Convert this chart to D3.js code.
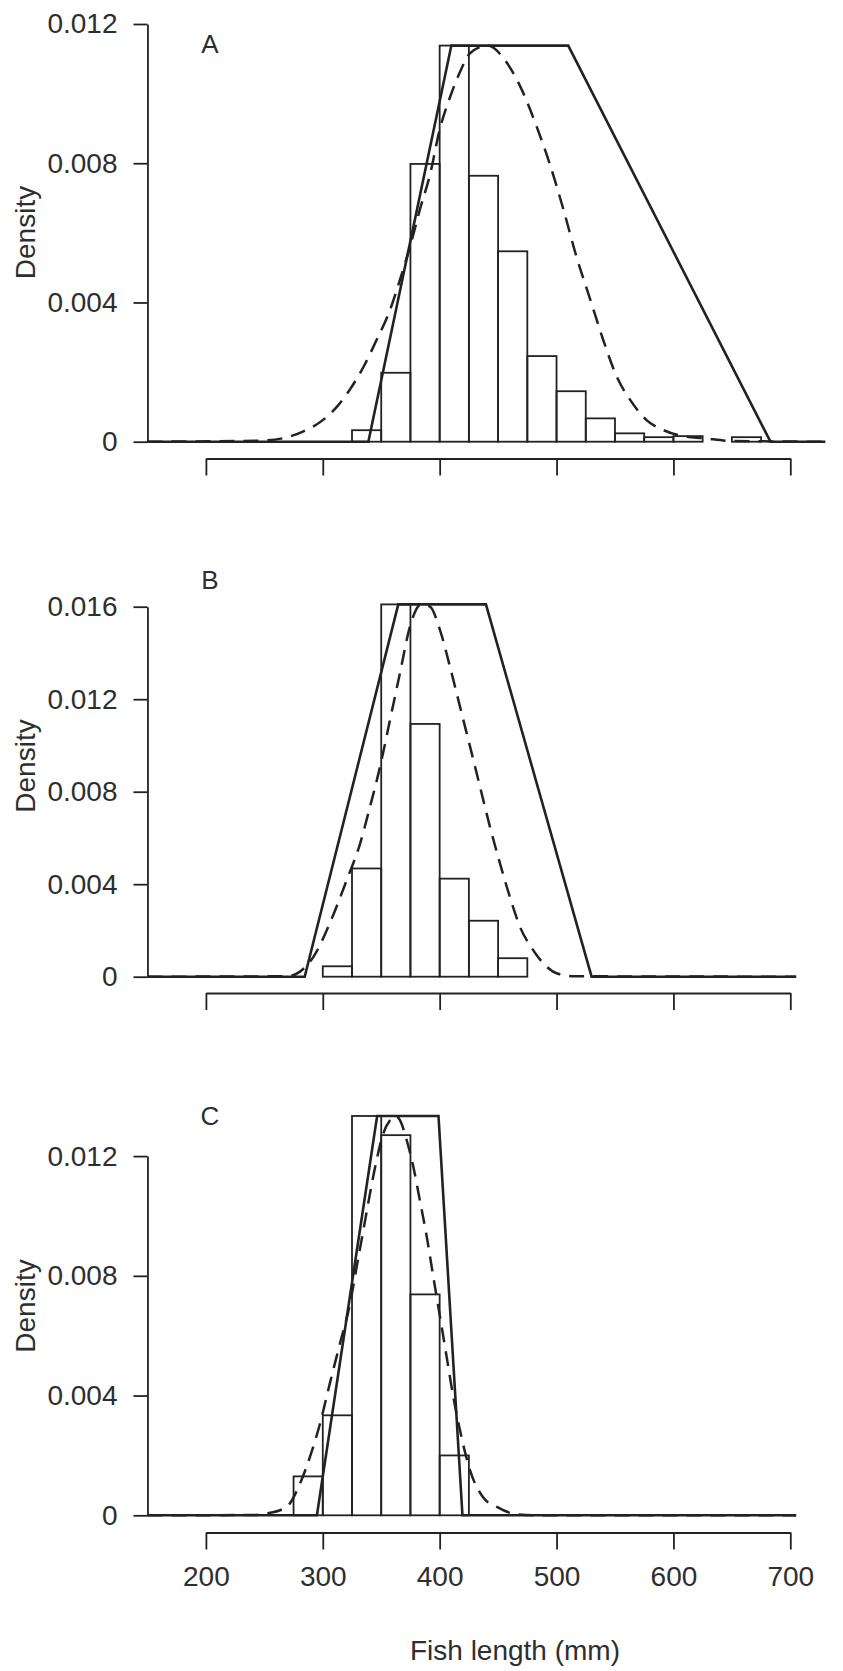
<!DOCTYPE html>
<html>
<head>
<meta charset="utf-8">
<script src="https://cdn.jsdelivr.net/npm/d3@7/dist/d3.min.js"></script>
<style>
  html, body { margin: 0; padding: 0; background: #ffffff; }
  svg { display: block; }
  text { font-family: "Liberation Sans", Arial, Helvetica, sans-serif; fill: #2e2e2e; }
</style>
</head>
<body>
<svg id="chart" width="843" height="1671"></svg>
<script>
// ---- data -------------------------------------------------------------
const lengthTicks = [200, 300, 400, 500, 600, 700];
const lengthRange = [150, 730];
const binWidth = 25;

// Panel A
const binStartsA = [325, 350, 375, 400, 425, 450, 475, 500, 525, 550, 575, 600, 625, 650];
const densityA   = [0.00033, 0.00198, 0.00798, 0.01138, 0.00764, 0.00547, 0.00246, 0.00145,
                    0.00067, 0.00024, 0.00013, 0.00016, 0, 0.00013];
const trapLenA   = [150, 339, 410, 510, 683, 730];
const trapDenA   = [0, 0, 0.01138, 0.01138, 0, 0];
const curveLenA  = [150, 246, 266, 283, 300, 312, 323, 335, 346, 357.5, 366, 374.6, 383, 392, 400,
                    409, 417, 426, 441, 455, 469, 483, 494, 506, 517, 529, 540, 551.5, 563, 577,
                    591, 608, 626, 650, 730];
const curveDenA  = [0, 0.00003, 0.0001, 0.00029, 0.00062, 0.001, 0.00149, 0.00216, 0.00292, 0.00378,
                    0.00465, 0.0056, 0.00666, 0.00771, 0.00896, 0.00991, 0.01059, 0.01116, 0.01138,
                    0.0110, 0.0102, 0.00905, 0.008, 0.00666, 0.00532, 0.00407, 0.00292, 0.00187,
                    0.0012, 0.00062, 0.00034, 0.00016, 0.0001, 0.00002, 0];
const densityTicksA = [0, 0.004, 0.008, 0.012];

// Panel B
const binStartsB = [300, 325, 350, 375, 400, 425, 450];
const densityB   = [0.00045, 0.00468, 0.0161, 0.01093, 0.00424, 0.00242, 0.0008];
const trapLenB   = [150, 284.5, 364.6, 439.6, 530, 705];
const trapDenB   = [0, 0, 0.0161, 0.0161, 0, 0];
const curveLenB  = [150, 270, 280.5, 292, 306, 320.5, 332, 340.4, 349, 357.5, 366, 374.6, 384,
                    391.7, 400.3, 408.8, 417.4, 426, 434.5, 443, 451.6, 460, 468.7, 480, 491.6,
                    500, 515, 705];
const curveDenB  = [0, 0.00002, 0.00022, 0.00086, 0.00231, 0.00418, 0.00577, 0.00735, 0.00908,
                    0.0111, 0.01312, 0.01514, 0.0161, 0.016, 0.01499, 0.01341, 0.01168, 0.00995,
                    0.00822, 0.00649, 0.0049, 0.00346, 0.00216, 0.00115, 0.00043, 0.00015,
                    0.00002, 0];
const densityTicksB = [0, 0.004, 0.008, 0.012, 0.016];

// Panel C
const binStartsC = [275, 300, 325, 350, 375, 400];
const densityC   = [0.0013, 0.00334, 0.01334, 0.0127, 0.00738, 0.002];
const trapLenC   = [150, 295, 346.5, 399, 419.5, 705];
const trapDenC   = [0, 0, 0.01334, 0.01334, 0, 0];
const curveLenC  = [150, 240, 252, 269, 280.5, 289, 297.6, 306, 314.7, 323.3, 329, 334.7, 340.4,
                    346, 351.8, 357.5, 362, 366, 371.8, 377.5, 383, 389, 394.6, 400.3, 406, 411.7,
                    417.4, 426, 437, 449, 466, 480, 705];
const curveDenC  = [0, 0.00001, 0.00006, 0.00028, 0.00106, 0.00195, 0.00306, 0.0044, 0.00574,
                    0.00707, 0.0083, 0.00952, 0.01075, 0.01186, 0.01276, 0.0132, 0.01334, 0.0132,
                    0.01253, 0.01164, 0.01053, 0.0093, 0.00796, 0.00663, 0.00529, 0.00395,
                    0.00284, 0.0015, 0.00061, 0.00028, 0.00003, 0, 0];
const densityTicksC = [0, 0.004, 0.008, 0.012];

const panelLabels = ["A", "B", "C"];
const yTitle = "Density";
const xTitle = "Fish length (mm)";

// ---- layout -----------------------------------------------------------
const svg = d3.select("#chart");
const ink = "#222222";
const textInk = "#2e2e2e";
const fontSize = 28;

// shared horizontal scale (mm -> px)
const x = d3.scaleLinear().domain([200, 700]).range([205.9, 790.3]);
const yAxisX = x(lengthRange[0]);

const panels = [
  { label: panelLabels[0], starts: binStartsA, dens: densityA, trapL: trapLenA, trapD: trapDenA,
    curL: curveLenA, curD: curveDenA, ticks: densityTicksA,
    yZero: 441.7, yTop: 24, labelY: 53, titleY: 232.5, xAxisY: 458.5, showLabels: false },
  { label: panelLabels[1], starts: binStartsB, dens: densityB, trapL: trapLenB, trapD: trapDenB,
    curL: curveLenB, curD: curveDenB, ticks: densityTicksB,
    yZero: 976.7, yTop: 606.7, labelY: 589, titleY: 766, xAxisY: 993, showLabels: false },
  { label: panelLabels[2], starts: binStartsC, dens: densityC, trapL: trapLenC, trapD: trapDenC,
    curL: curveLenC, curD: curveDenC, ticks: densityTicksC,
    yZero: 1515.3, yTop: 1156.1, labelY: 1125, titleY: 1306, xAxisY: 1532.5, showLabels: true }
];

const fmt = d => d === 0 ? "0" : d3.format(".3f")(d);

panels.forEach(p => {
  const topTick = d3.max(p.ticks);
  const y = d3.scaleLinear().domain([0, topTick]).range([p.yZero, p.yTop]);
  const g = svg.append("g");

  // histogram bars
  g.append("g").selectAll("rect")
    .data(p.starts.map((s, i) => ({ s, d: p.dens[i] })))
    .join("rect")
    .attr("x", d => x(d.s))
    .attr("y", d => y(d.d))
    .attr("width", d => x(d.s + binWidth) - x(d.s))
    .attr("height", d => y(0) - y(d.d))
    .attr("fill", "none")
    .attr("stroke", ink)
    .attr("stroke-width", 1.8);

  // trapezoid (solid)
  const trap = p.trapL.map((l, i) => [l, p.trapD[i]]);
  g.append("path")
    .datum(trap)
    .attr("d", d3.line().x(d => x(d[0])).y(d => y(d[1])))
    .attr("fill", "none")
    .attr("stroke", ink)
    .attr("stroke-width", 2.6)
    .attr("stroke-linejoin", "miter");

  // fitted density (dashed)
  const curve = p.curL.map((l, i) => [l, p.curD[i]]);
  g.append("path")
    .datum(curve)
    .attr("d", d3.line().curve(d3.curveMonotoneX).x(d => x(d[0])).y(d => y(d[1])))
    .attr("fill", "none")
    .attr("stroke", ink)
    .attr("stroke-width", 2.5)
    .attr("stroke-dasharray", "15,9");

  // density axis
  const yAxis = d3.axisLeft(y).tickValues(p.ticks).tickFormat(fmt)
    .tickSize(14).tickSizeOuter(0).tickPadding(16);
  const ya = g.append("g").attr("transform", `translate(${yAxisX},0)`).call(yAxis);
  ya.selectAll("path, line").attr("stroke", ink).attr("stroke-width", 1.8);
  ya.selectAll("text").attr("font-size", fontSize).attr("font-family", null).attr("fill", textInk);

  // length axis (drawn below the panel)
  const xa = d3.scaleLinear().domain([lengthTicks[0], lengthTicks[lengthTicks.length - 1]])
    .range([x(lengthTicks[0]), x(lengthTicks[lengthTicks.length - 1])]);
  const xAxis = d3.axisBottom(xa).tickValues(lengthTicks)
    .tickSize(17).tickSizeOuter(0).tickPadding(17)
    .tickFormat(p.showLabels ? d3.format("d") : () => "");
  const xg = g.append("g").attr("transform", `translate(0,${p.xAxisY})`).call(xAxis);
  xg.selectAll("path, line").attr("stroke", ink).attr("stroke-width", 1.8);
  xg.selectAll("text").attr("font-size", fontSize).attr("font-family", null).attr("fill", textInk);

  // panel letter
  g.append("text")
    .attr("x", 210).attr("y", p.labelY)
    .attr("text-anchor", "middle")
    .attr("font-size", 26)
    .text(p.label);

  // density title
  g.append("text")
    .attr("transform", `translate(35,${p.titleY}) rotate(-90)`)
    .attr("text-anchor", "middle")
    .attr("font-size", fontSize)
    .text(yTitle);
});

// length title
svg.append("text")
  .attr("x", 515).attr("y", 1660)
  .attr("text-anchor", "middle")
  .attr("font-size", fontSize)
  .text(xTitle);
</script>
</body>
</html>
